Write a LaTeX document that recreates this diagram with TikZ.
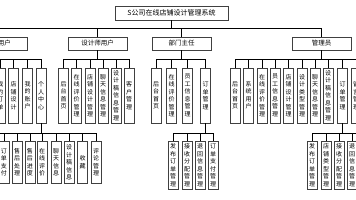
\documentclass[tikz,border=0pt]{standalone}
\usepackage{fontspec}
\setmainfont{Noto Sans CJK SC}

\begin{document}
\begin{tikzpicture}[
  x=1pt, y=-1pt,
  titlebox/.style={draw=black!75, line width=0.6pt, minimum width=113pt, minimum height=14pt, inner sep=0pt, font=\fontsize{7}{8}\selectfont},
  rolebox/.style={draw=black!75, line width=0.6pt, minimum width=59pt, minimum height=13pt, inner sep=0pt, font=\fontsize{6.5}{7.5}\selectfont},
  funcbox/.style={draw=black!75, line width=0.6pt, align=center, minimum width=10pt, minimum height=55pt, inner xsep=0pt, inner ysep=1pt, font=\fontsize{6}{7.5}\selectfont},
  subbox/.style={funcbox, minimum height=42pt, inner ysep=2.5pt, anchor=north},
  link/.style={draw, line width=0.5pt}
]
\useasboundingbox (0,0) rectangle (356,200);
\clip (0,0) rectangle (356,200);

\node[titlebox] (sys) at (171.5,13) {S公司在线店铺设计管理系统};

\node[rolebox] (user) at (-2,43.5) {\hspace*{13pt}用户};
\node[rolebox] (designer) at (97.5,43.5) {设计师用户};
\node[rolebox] (director) at (181.5,43.5) {部门主任};
\node[rolebox] (admin) at (321.5,43.5) {管理员};

% user functions
\node[funcbox] (u1) at (0.5,95.5) {我\\的\\订\\单};
\node[funcbox] (u2) at (13.5,95.5) {店\\铺\\设\\计};
\node[funcbox] (u3) at (27.5,95.5) {我\\的\\账\\户};
\node[funcbox] (u4) at (41,95.5) {个\\人\\中\\心};

% designer functions
\node[funcbox] (d1) at (63.5,95.5) {后\\台\\首\\页};
\node[funcbox] (d2) at (76.5,95.5) {在\\线\\评\\价\\管\\理};
\node[funcbox] (d3) at (90,95.5) {店\\铺\\设\\计\\管\\理};
\node[funcbox] (d4) at (103,95.5) {聊\\天\\信\\息\\管\\理};
\node[funcbox] (d5) at (116,95.5) {设\\计\\稿\\信\\息\\管\\理};
\node[funcbox] (d6) at (129,95.5) {客\\户\\管\\理};

% director functions
\node[funcbox] (m1) at (156,95.5) {后\\台\\首\\页};
\node[funcbox] (m2) at (171.5,95.5) {在\\线\\评\\价\\管\\理};
\node[funcbox] (m3) at (187.5,95.5) {员\\工\\信\\息\\管\\理};
\node[funcbox] (m4) at (205.5,95.5) {订\\单\\管\\理};

% admin functions
\node[funcbox] (a1) at (235,95.5) {后\\台\\首\\页};
\node[funcbox] (a2) at (248.5,95.5) {系\\统\\用\\户};
\node[funcbox] (a3) at (262,95.5) {在\\线\\评\\价\\管\\理};
\node[funcbox] (a4) at (275,95.5) {员\\工\\信\\息\\管\\理};
\node[funcbox] (a5) at (288.5,95.5) {店\\铺\\设\\计\\管\\理};
\node[funcbox] (a6) at (302,95.5) {设\\计\\类\\型\\管\\理};
\node[funcbox] (a7) at (315,95.5) {聊\\天\\信\\息\\管\\理};
\node[funcbox] (a8) at (328,95.5) {设\\计\\稿\\信\\息\\管\\理};
\node[funcbox] (a9) at (342.5,95.5) {订\\单\\管\\理};
\node[funcbox] (a10) at (356,95.5) {留\\言\\管\\理};

% personal centre
\node[subbox] (p1) at (4,141) {订\\单\\支\\付};
\node[subbox] (p2) at (17,141) {售\\后\\处\\理};
\node[subbox] (p3) at (30,141) {售\\后\\进\\度};
\node[subbox] (p4) at (42,141) {在\\线\\评\\价};
\node[subbox] (p5) at (56,141) {聊\\天\\信\\息};
\node[subbox] (p6) at (69,141) {设\\计\\稿\\信\\息};
\node[subbox] (p7) at (82.5,141) {收\\藏};
\node[subbox] (p8) at (96,141) {评\\论\\管\\理};

% director orders
\node[subbox] (o1) at (173,141) {发\\布\\订\\单\\管\\理};
\node[subbox] (o2) at (187,141) {接\\收\\分\\配\\管\\理};
\node[subbox] (o3) at (200,141) {退\\回\\信\\息\\管\\理};
\node[subbox] (o4) at (213,141) {订\\单\\支\\付\\管\\理};

% admin orders
\node[subbox] (q1) at (312,141) {发\\布\\订\\单\\管\\理};
\node[subbox] (q2) at (326,141) {店\\铺\\类\\型\\管\\理};
\node[subbox] (q3) at (339,141) {接\\收\\分\\配\\管\\理};
\node[subbox] (q4) at (352,141) {退\\回\\信\\息\\管\\理};

\coordinate (uend) at (-4,133);
\coordinate (aend) at (362,59);
\coordinate (qend) at (362,133);

\draw[link] (sys.south) -- ++(0,8) -| (user.north);
\draw[link] (sys.south) -- ++(0,8) -| (designer.north);
\draw[link] (sys.south) -- ++(0,8) -| (director.north);
\draw[link] (sys.south) -- ++(0,8) -| (admin.north);

\draw[link] (user.south) -- ++(0,9) -| (u1.north);
\draw[link] (user.south) -- ++(0,9) -| (u2.north);
\draw[link] (user.south) -- ++(0,9) -| (u3.north);
\draw[link] (user.south) -- ++(0,9) -| (u4.north);

\draw[link] (designer.south) -- ++(0,9) -| (d1.north);
\draw[link] (designer.south) -- ++(0,9) -| (d2.north);
\draw[link] (designer.south) -- ++(0,9) -| (d3.north);
\draw[link] (designer.south) -- ++(0,9) -| (d4.north);
\draw[link] (designer.south) -- ++(0,9) -| (d5.north);
\draw[link] (designer.south) -- ++(0,9) -| (d6.north);

\draw[link] (director.south) -- ++(0,9) -| (m1.north);
\draw[link] (director.south) -- ++(0,9) -| (m2.north);
\draw[link] (director.south) -- ++(0,9) -| (m3.north);
\draw[link] (director.south) -- ++(0,9) -| (m4.north);

\draw[link] (admin.south) -- ++(0,9) -| (a1.north);
\draw[link] (admin.south) -- ++(0,9) -| (a2.north);
\draw[link] (admin.south) -- ++(0,9) -| (a3.north);
\draw[link] (admin.south) -- ++(0,9) -| (a4.north);
\draw[link] (admin.south) -- ++(0,9) -| (a5.north);
\draw[link] (admin.south) -- ++(0,9) -| (a6.north);
\draw[link] (admin.south) -- ++(0,9) -| (a7.north);
\draw[link] (admin.south) -- ++(0,9) -| (a8.north);
\draw[link] (admin.south) -- ++(0,9) -| (a9.north);
\draw[link] (admin.south) -- ++(0,9) -| (a10.north);
\draw[link] (admin.south) |- (aend);

\draw[link] (u4.south) -- ++(0,10) -| (p1.north);
\draw[link] (u4.south) -- ++(0,10) -| (p2.north);
\draw[link] (u4.south) -- ++(0,10) -| (p3.north);
\draw[link] (u4.south) -- ++(0,10) -| (p4.north);
\draw[link] (u4.south) -- ++(0,10) -| (p5.north);
\draw[link] (u4.south) -- ++(0,10) -| (p6.north);
\draw[link] (u4.south) -- ++(0,10) -| (p7.north);
\draw[link] (u4.south) -- ++(0,10) -| (p8.north);
\draw[link] (u4.south) |- (uend);

\draw[link] (m4.south) -- ++(0,10) -| (o1.north);
\draw[link] (m4.south) -- ++(0,10) -| (o2.north);
\draw[link] (m4.south) -- ++(0,10) -| (o3.north);
\draw[link] (m4.south) -- ++(0,10) -| (o4.north);

\draw[link] (a9.south) -- ++(0,10) -| (q1.north);
\draw[link] (a9.south) -- ++(0,10) -| (q2.north);
\draw[link] (a9.south) -- ++(0,10) -| (q3.north);
\draw[link] (a9.south) -- ++(0,10) -| (q4.north);
\draw[link] (a9.south) |- (qend);

\end{tikzpicture}
\end{document}
